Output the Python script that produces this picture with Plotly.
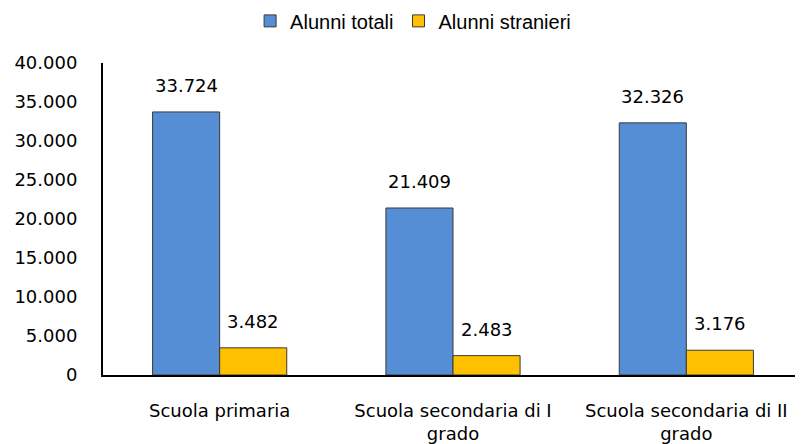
import plotly.graph_objects as go

categories = ["Scuola primaria", "Scuola secondaria di I<br>grado", "Scuola secondaria di II<br>grado"]
series_names = ["Alunni totali", "Alunni stranieri"]
totali = [33724, 21409, 32326]
stranieri = [3482, 2483, 3176]
y_ticks = [0, 5000, 10000, 15000, 20000, 25000, 30000, 35000, 40000]

colors = ["#558ED5", "#FFC000"]
FONT = "DejaVu Sans"

# page body has an 8px margin, so the figure is sized to fit the window
W, H = 795, 436
ML, MR, MT, MB = 95, 0, 55, 69
BARGAP = 0.425

fig = go.Figure()
for name, vals, col in zip(series_names, [totali, stranieri], colors):
    fig.add_trace(go.Bar(
        name=name, x=categories, y=vals,
        marker=dict(color=col, line=dict(color="#3a3a3a", width=1)),
    ))

# data labels above bars
plot_w = W - ML - MR
cat_w = plot_w / len(categories)
bar_w = cat_w * (1 - BARGAP) / 2
for i, vals in enumerate([totali, stranieri]):
    shift = (-0.5 + i) * bar_w
    for c, v in zip(categories, vals):
        fig.add_annotation(
            x=c, y=v, xref="x", yref="y", text=f"{v:,}".replace(",", "."),
            showarrow=False, yanchor="bottom", xanchor="center",
            xshift=shift, yshift=14,
            font=dict(family=FONT, size=18, color="#000000"),
        )

fig.update_layout(
    width=W, height=H,
    margin=dict(l=ML, r=MR, t=MT, b=MB, pad=0, autoexpand=False),
    paper_bgcolor="white", plot_bgcolor="white",
    barmode="group", bargap=BARGAP, bargroupgap=0,
    separators=",.",
    font=dict(family=FONT, size=18, color="#000000"),
    showlegend=True,
    legend=dict(
        orientation="h", x=0.443, xanchor="center",
        y=1.135, yanchor="middle",
        font=dict(family="Liberation Sans", size=20, color="#000000"),
        itemwidth=30, tracegroupgap=0,
    ),
    xaxis=dict(
        showline=True, linecolor="#000000", linewidth=2,
        ticks="", showgrid=False, zeroline=False, automargin=False,
        tickfont=dict(family=FONT, size=18, color="#000000"),
        ticklabelstandoff=18,
    ),
    yaxis=dict(
        range=[0, 40000], tickvals=y_ticks, tickformat=",d",
        showline=True, linecolor="#000000", linewidth=2,
        ticks="", showgrid=False, zeroline=False, automargin=False,
        tickfont=dict(family=FONT, size=18, color="#000000"),
        ticklabelstandoff=20,
    ),
)

fig.write_html("out.html")
